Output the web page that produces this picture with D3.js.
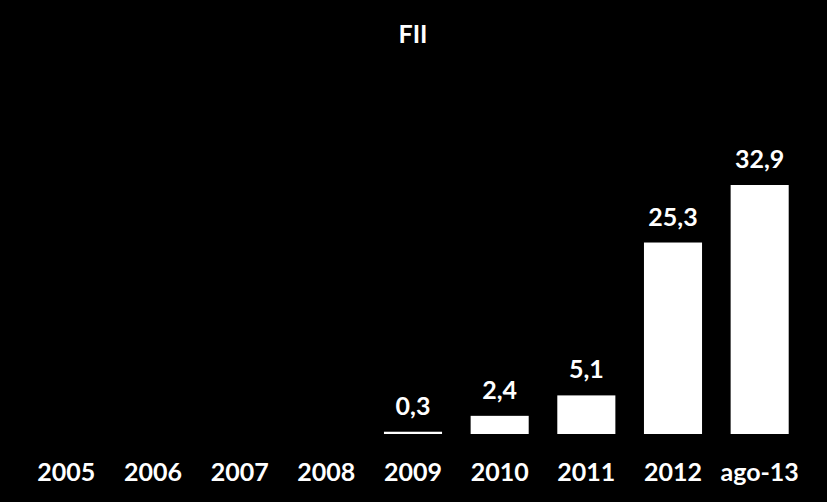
<!DOCTYPE html>
<html>
<head>
<meta charset="utf-8">
<script src="https://cdn.jsdelivr.net/npm/d3@7"></script>
<style>
  html, body { margin: 0; padding: 0; background: #000; }
  svg { display: block; }
</style>
</head>
<body>
<div id="chart"></div>
<script>
/* CONSTANTS AND GLOBALS */
const width = 827;
const height = 502;
const margin = { top: 185, right: 24, bottom: 68, left: 23 };

// DATA ######################################################
const title = "FII";
const categories = ["2005", "2006", "2007", "2008", "2009", "2010", "2011", "2012", "ago-13"];
const values = [null, null, null, null, 0.3, 2.4, 5.1, 25.3, 32.9];

const data = categories.map((c, i) => ({ cat: c, value: values[i] }));
const fmt = v => d3.format(".1f")(v).replace(".", ",");

// SCALES ####################################################
const xScale = d3.scaleBand()
  .domain(categories)
  .range([margin.left, width - margin.right])
  .paddingInner(0.33)
  .paddingOuter(0.165);

const yScale = d3.scaleLinear()
  .domain([0, d3.max(values)])
  .range([height - margin.bottom, margin.top]);

// SVG #######################################################
const svg = d3.select("#chart")
  .append("svg")
  .attr("width", width)
  .attr("height", height)
  .style("background-color", "#000")
  .style("font-family", "Lato, 'Open Sans', sans-serif")
  .style("font-weight", "bold");

// title
svg.append("text")
  .attr("x", 413)
  .attr("y", 43)
  .attr("text-anchor", "middle")
  .attr("fill", "#fff")
  .style("font-size", "25px")
  .text(title);

// bars
const withVals = data.filter(d => d.value != null);

svg.selectAll(".bar")
  .data(withVals)
  .join("rect")
    .attr("class", "bar")
    .attr("x", d => xScale(d.cat))
    .attr("width", xScale.bandwidth())
    .attr("y", d => yScale(d.value))
    .attr("height", d => yScale(0) - yScale(d.value))
    .attr("fill", "#fff");

// bar value labels
svg.selectAll(".bar-nums")
  .data(withVals)
  .join("text")
    .attr("class", "bar-nums")
    .attr("x", d => xScale(d.cat) + xScale.bandwidth() / 2)
    .attr("y", d => yScale(d.value) - 17)
    .attr("text-anchor", "middle")
    .attr("fill", "#fff")
    .style("font-size", "25px")
    .text(d => fmt(d.value));

// x axis (labels only)
const xAxisGroup = svg.append("g")
  .attr("class", "x-axis")
  .attr("transform", `translate(0, ${height - margin.bottom})`)
  .call(d3.axisBottom(xScale).tickSize(0).tickPadding(0));

xAxisGroup.select(".domain").remove();
xAxisGroup.selectAll("text")
  .attr("dy", null)
  .attr("y", 47)
  .attr("fill", "#fff")
  .style("font-family", "Lato, 'Open Sans', sans-serif")
  .style("font-weight", "bold")
  .style("font-size", "25px");
</script>
</body>
</html>
